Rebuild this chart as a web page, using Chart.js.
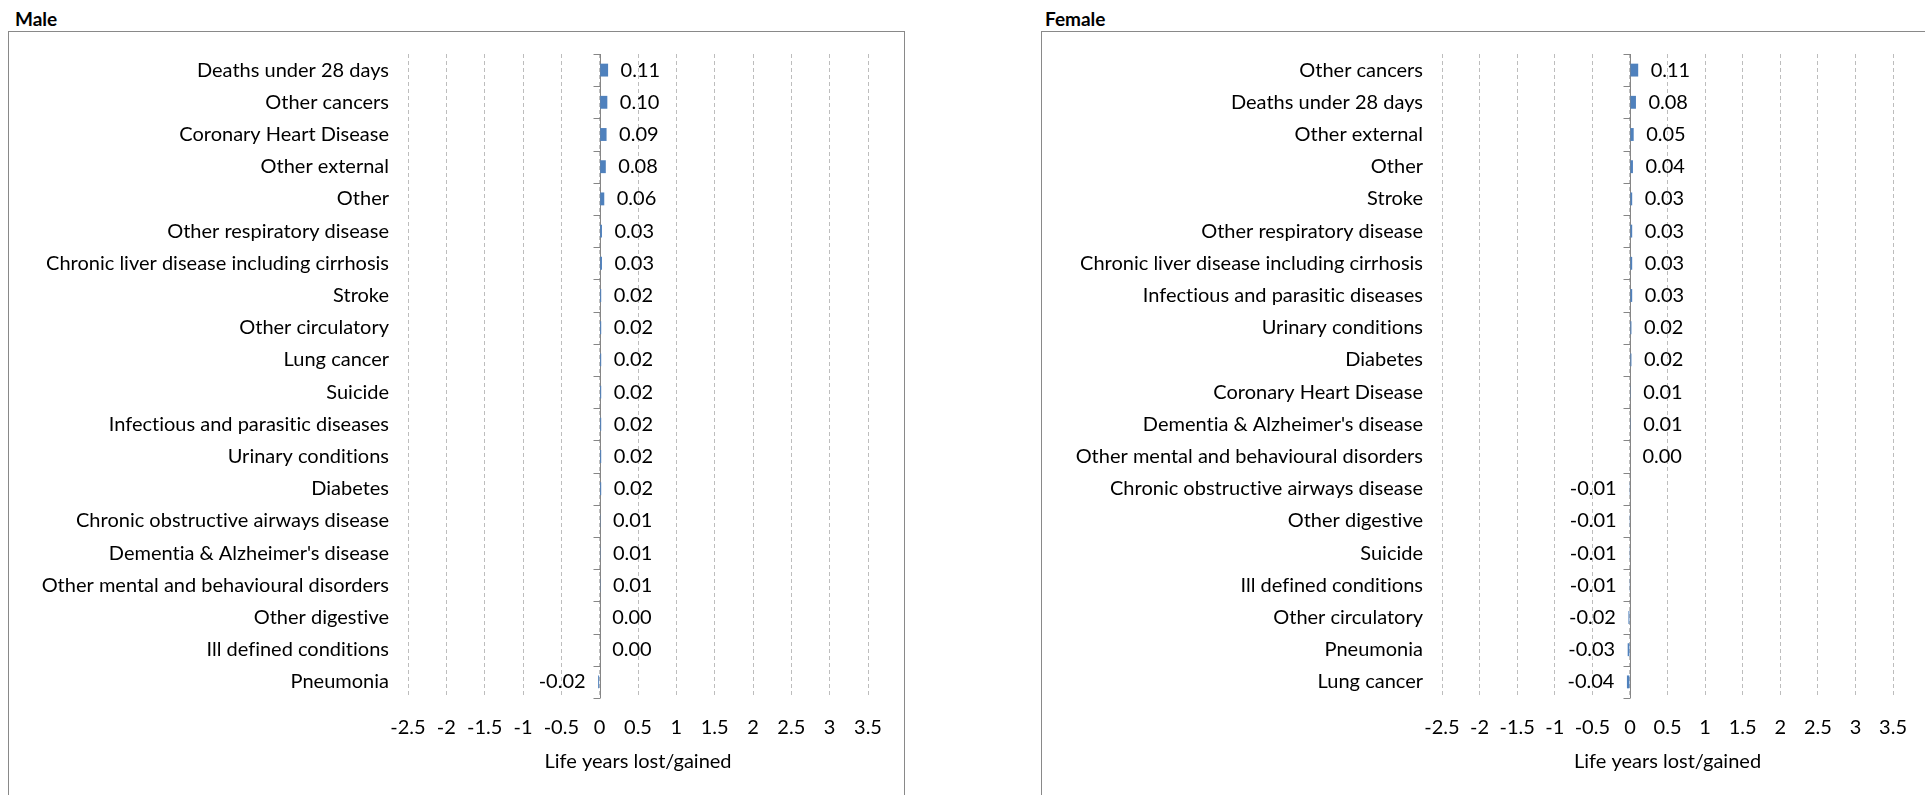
<!DOCTYPE html>
<html>
<head>
<meta charset="utf-8">
<script src="https://cdn.jsdelivr.net/npm/chart.js@4.4.1/dist/chart.umd.min.js"></script>
<style>
  html, body { margin: 0; padding: 0; background: #fff; }
  body { width: 1925px; height: 795px; position: relative; overflow: hidden; font-family: Lato, sans-serif; }
  .title { position: absolute; top: 7px; font-weight: bold; font-size: 19px; color: #000; font-variant-ligatures: none; }
  .frame { position: absolute; top: 31px; height: 800px; border: 1px solid #898989; box-sizing: border-box; }
  canvas { position: absolute; top: 0; }
</style>
</head>
<body>
<div class="title" style="left:15px">Male</div>
<div class="frame" style="left:8px; width:897px"></div>
<canvas id="male" width="1000" height="795" style="left:0"></canvas>

<div class="title" style="left:1045px">Female</div>
<div class="frame" style="left:1041px; width:920px"></div>
<canvas id="female" width="925" height="795" style="left:1000px"></canvas>

<script>
// life years lost (-) / gained (+) by cause of death
const maleCauses = [
  "Deaths under 28 days", "Other cancers", "Coronary Heart Disease", "Other external", "Other",
  "Other respiratory disease", "Chronic liver disease including cirrhosis", "Stroke", "Other circulatory",
  "Lung cancer", "Suicide", "Infectious and parasitic diseases", "Urinary conditions", "Diabetes",
  "Chronic obstructive airways disease", "Dementia & Alzheimer's disease",
  "Other mental and behavioural disorders", "Other digestive", "Ill defined conditions", "Pneumonia"
];
const maleValues = [0.11, 0.10, 0.09, 0.08, 0.06, 0.03, 0.03, 0.02, 0.02, 0.02,
                    0.02, 0.02, 0.02, 0.02, 0.01, 0.01, 0.01, 0.00, 0.00, -0.02];

const femaleCauses = [
  "Other cancers", "Deaths under 28 days", "Other external", "Other", "Stroke",
  "Other respiratory disease", "Chronic liver disease including cirrhosis", "Infectious and parasitic diseases",
  "Urinary conditions", "Diabetes", "Coronary Heart Disease", "Dementia & Alzheimer's disease",
  "Other mental and behavioural disorders", "Chronic obstructive airways disease", "Other digestive",
  "Suicide", "Ill defined conditions", "Other circulatory", "Pneumonia", "Lung cancer"
];
const femaleValues = [0.11, 0.08, 0.05, 0.04, 0.03, 0.03, 0.03, 0.03, 0.02, 0.02,
                      0.01, 0.01, 0.00, -0.01, -0.01, -0.01, -0.01, -0.02, -0.03, -0.04];

const xTickValues = [-2.5, -2, -1.5, -1, -0.5, 0, 0.5, 1, 1.5, 2, 2.5, 3, 3.5];

const FONT = 'Lato, sans-serif';
const FONT_SIZE = 20;
const TEXT = '#000';

// no "ti"/"fi" ligatures on the canvas text
const plainText = {
  id: 'plainText',
  beforeDraw(chart) {
    chart.ctx.textRendering = 'optimizeSpeed';
  }
};

// solid vertical axis at zero with small tick marks between categories
const zeroAxis = {
  id: 'zeroAxis',
  beforeDatasetsDraw(chart) {
    const {ctx, chartArea: a, scales: {x}} = chart;
    const x0 = Math.round(x.getPixelForValue(0)) + 0.5;
    const n = chart.data.labels.length;
    ctx.save();
    ctx.strokeStyle = '#868686';
    ctx.lineWidth = 1;
    ctx.beginPath();
    ctx.moveTo(x0, a.top);
    ctx.lineTo(x0, a.bottom);
    for (let i = 0; i <= n; i++) {
      const y = Math.round(a.top + (a.bottom - a.top) * i / n) + 0.5;
      ctx.moveTo(x0 - 7, y);
      ctx.lineTo(x0, y);
    }
    ctx.stroke();
    ctx.restore();
  }
};

// value labels just past the end of each bar
const valueLabels = {
  id: 'valueLabels',
  afterDatasetsDraw(chart) {
    const {ctx} = chart;
    const vals = chart.data.datasets[0].data;
    ctx.save();
    ctx.font = FONT_SIZE + 'px ' + FONT;
    ctx.fillStyle = TEXT;
    ctx.textBaseline = 'middle';
    chart.getDatasetMeta(0).data.forEach((bar, i) => {
      const v = vals[i];
      if (v < 0) {
        ctx.textAlign = 'right';
        ctx.fillText(v.toFixed(2), bar.x - 12.5, bar.y);
      } else {
        ctx.textAlign = 'left';
        ctx.fillText(v.toFixed(2), bar.x + 12.5, bar.y);
      }
    });
    ctx.restore();
  }
};

function makeChart(id, causes, values, plotLeft, plotRight) {
  const canvas = document.getElementById(id);
  return new Chart(canvas, {
    type: 'bar',
    data: {
      labels: causes,
      datasets: [{
        data: values,
        backgroundColor: '#4F81BD',
        borderWidth: 0,
        barPercentage: 0.4,
        categoryPercentage: 1.0
      }]
    },
    options: {
      indexAxis: 'y',
      responsive: false,
      animation: false,
      layout: { padding: { top: 54, left: 0, bottom: 0, right: canvas.width - plotRight } },
      plugins: { legend: { display: false }, tooltip: { enabled: false } },
      scales: {
        y: {
          type: 'category',
          grid: { display: false, drawTicks: false },
          border: { display: false },
          ticks: { autoSkip: false, color: TEXT, padding: 19, font: { family: FONT, size: FONT_SIZE } },
          afterFit: s => { s.width = plotLeft; }
        },
        x: {
          type: 'linear',
          min: xTickValues[0],
          max: xTickValues[xTickValues.length - 1],
          afterBuildTicks: s => { s.ticks = xTickValues.map(v => ({ value: v })); },
          grid: { color: '#bdbdbd', lineWidth: 1, drawTicks: false },
          border: { display: false, dash: [4, 3] },
          ticks: {
            autoSkip: false, maxRotation: 0, color: TEXT, padding: 18,
            font: { family: FONT, size: FONT_SIZE },
            callback: v => String(v)
          },
          title: {
            display: true, text: 'Life years lost/gained', color: TEXT,
            font: { family: FONT, size: FONT_SIZE }, padding: { top: 0, bottom: 21 }
          },
          afterFit: s => { s.height = 97; }
        }
      }
    },
    plugins: [plainText, zeroAxis, valueLabels]
  });
}

makeChart('male', maleCauses, maleValues, 408, 868);
makeChart('female', femaleCauses, femaleValues, 442, 903);
</script>
</body>
</html>
